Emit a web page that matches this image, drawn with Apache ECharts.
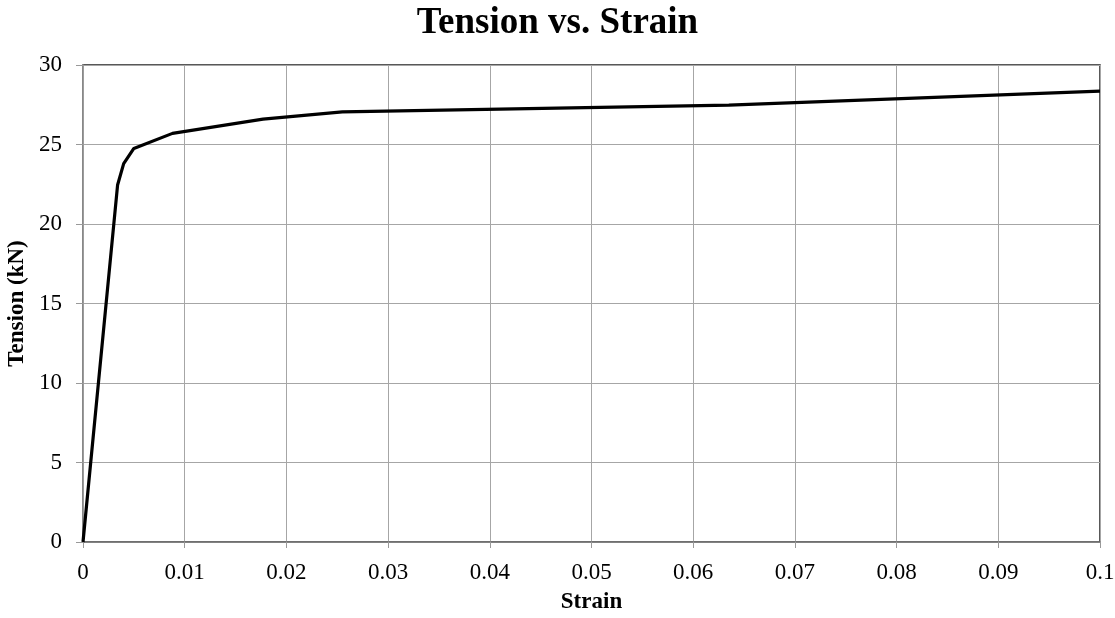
<!DOCTYPE html>
<html>
<head>
<meta charset="utf-8">
<script src="https://cdn.jsdelivr.net/npm/echarts@6/dist/echarts.min.js"></script>
<style>
html,body{margin:0;padding:0;background:#fff;}
#chart{width:1115px;height:618px;}
</style>
</head>
<body>
<div id="chart"></div>
<script>
const strain  = [0, 0.0034, 0.0040, 0.0050, 0.0088, 0.0177, 0.0255, 0.0635, 0.1];
const tension = [0, 22.45, 23.8, 24.75, 25.7, 26.6, 27.05, 27.48, 28.36];
const titleText = 'Tension vs. Strain';
const xName = 'Strain';
const yName = 'Tension (kN)';

const data = strain.map((s, i) => [s, tension[i]]);
const font = '"Liberation Serif", "Times New Roman", serif';
const fmt = v => String(parseFloat(Number(v).toFixed(4)));

const chart = echarts.init(document.getElementById('chart'));
chart.setOption({
  animation: false,
  backgroundColor: '#fff',
  title: {
    text: titleText,
    left: 'center',
    top: 0,
    textStyle: {fontFamily: font, fontWeight: 'bold', fontSize: 37, color: '#000'}
  },
  grid: {
    left: 83, right: 15, top: 65, bottom: 76,
    outerBoundsMode: 'none',
    containLabel: false,
    show: true, borderColor: '#222', borderWidth: 1.5
  },
  xAxis: {
    type: 'value', min: 0, max: 0.1, interval: 0.01,
    name: xName, nameLocation: 'middle', nameGap: 49,
    nameTextStyle: {fontFamily: font, fontWeight: 'bold', fontSize: 23, color: '#000'},
    axisLine: {show: true, lineStyle: {color: '#777', width: 1.5}},
    axisTick: {show: true, inside: false, length: 6, lineStyle: {color: '#999'}},
    axisLabel: {fontFamily: font, fontSize: 23, color: '#000', margin: 19, formatter: fmt},
    splitLine: {show: true, lineStyle: {color: '#a6a6a6', width: 1}}
  },
  yAxis: {
    type: 'value', min: 0, max: 30, interval: 5,
    name: yName, nameLocation: 'middle', nameGap: 49, nameRotate: 90,
    nameTextStyle: {fontFamily: font, fontWeight: 'bold', fontSize: 23, color: '#000'},
    axisLine: {show: true, lineStyle: {color: '#999', width: 1.5}},
    axisTick: {show: true, inside: false, length: 7, lineStyle: {color: '#999'}},
    axisLabel: {fontFamily: font, fontSize: 23, color: '#000', margin: 21},
    splitLine: {show: true, lineStyle: {color: '#a6a6a6', width: 1}}
  },
  series: [{
    type: 'line',
    data: data,
    showSymbol: false,
    symbol: 'none',
    lineStyle: {color: '#000', width: 3.2},
    clip: false
  }]
});
</script>
</body>
</html>
